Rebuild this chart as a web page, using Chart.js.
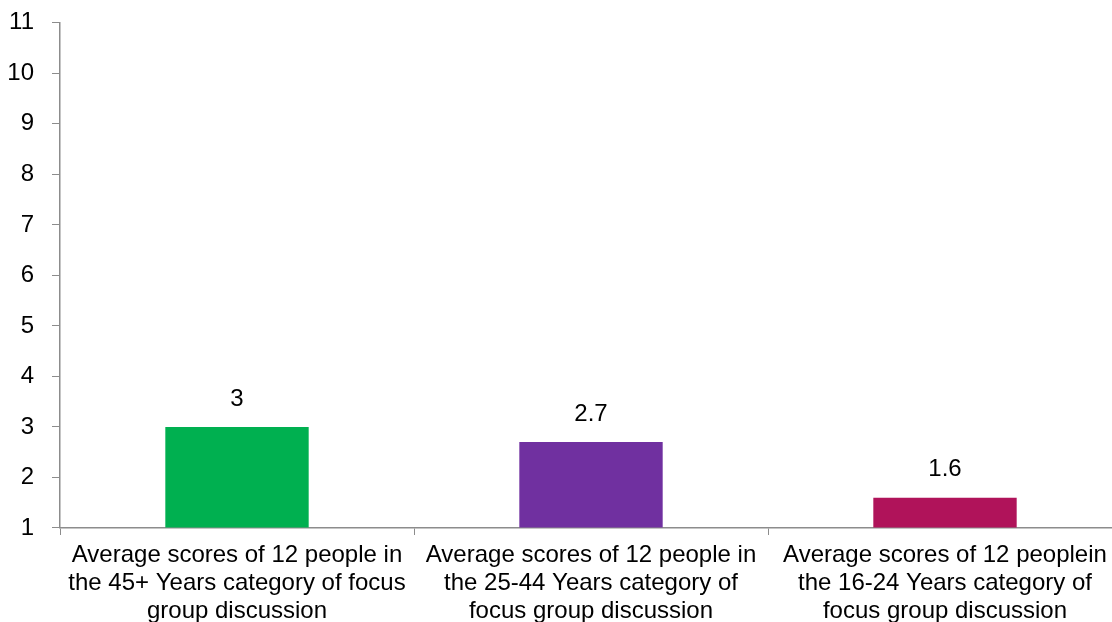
<!DOCTYPE html>
<html>
<head>
<meta charset="utf-8">
<script src="https://cdn.jsdelivr.net/npm/chart.js@4/dist/chart.umd.min.js"></script>
<style>
  html, body { margin: 0; padding: 0; background: #fff; overflow: hidden; }
  #box { position: relative; width: 1122px; height: 631px; }
</style>
</head>
<body>
<div id="box"><canvas id="myChart"></canvas></div>
<script>
// categories (each label split into its printed lines)
const categories = [
    ['Average scores of 12 people in', 'the 45+ Years category of focus', 'group discussion'],
    ['Average scores of 12 people in', 'the 25-44 Years category of', 'focus group discussion'],
    ['Average scores of 12 peoplein', 'the 16-24 Years category of', 'focus group discussion']
];
const scores = [3, 2.7, 1.6];
const barColors = ['#00B050', '#7030A0', '#B0135A'];
const yMin = 1;
const yMax = 11;

const axisGrey = '#8c8c8c';
const fontFamily = 'Arial, "Liberation Sans", sans-serif';

// writes the value above every bar
const valueLabels = {
    id: 'valueLabels',
    afterDatasetsDraw(chart) {
        const c = chart.ctx;
        const meta = chart.getDatasetMeta(0);
        c.save();
        c.font = '24px ' + fontFamily;
        c.fillStyle = '#000';
        c.textAlign = 'center';
        c.textBaseline = 'middle';
        meta.data.forEach((bar, i) => {
            c.fillText(String(scores[i]), bar.x, bar.y - 28);
        });
        c.restore();
    }
};

const ctx = document.getElementById('myChart').getContext('2d');
const myChart = new Chart(ctx, {
    type: 'bar',
    data: {
        labels: categories,
        datasets: [{
            data: scores,
            base: yMin,
            backgroundColor: barColors,
            barPercentage: 1,
            categoryPercentage: 0.405
        }]
    },
    options: {
        responsive: true,
        maintainAspectRatio: false,
        animation: false,
        layout: { padding: 0 },
        plugins: {
            legend: { display: false },
            tooltip: { enabled: false }
        },
        scales: {
            x: {
                offset: true,
                grid: {
                    display: true,
                    offset: true,
                    drawOnChartArea: false,
                    drawTicks: true,
                    tickLength: 7,
                    color: axisGrey
                },
                border: { display: true, color: axisGrey, width: 1.5 },
                ticks: {
                    color: '#000',
                    padding: 6,
                    maxRotation: 0,
                    autoSkip: false,
                    font: { family: fontFamily, size: 24, lineHeight: 1.1667 }
                }
            },
            y: {
                min: yMin,
                max: yMax,
                afterFit(scale) {
                    scale.width = 60;
                },
                grid: {
                    display: true,
                    drawOnChartArea: false,
                    drawTicks: true,
                    tickLength: 8,
                    color: axisGrey
                },
                border: { display: true, color: axisGrey, width: 1.5 },
                ticks: {
                    stepSize: 1,
                    color: '#000',
                    padding: 18,
                    // small line height keeps the top tick close to the edge
                    font: { family: fontFamily, size: 24, lineHeight: 0.4 }
                }
            }
        }
    },
    plugins: [valueLabels]
});
</script>
</body>
</html>
